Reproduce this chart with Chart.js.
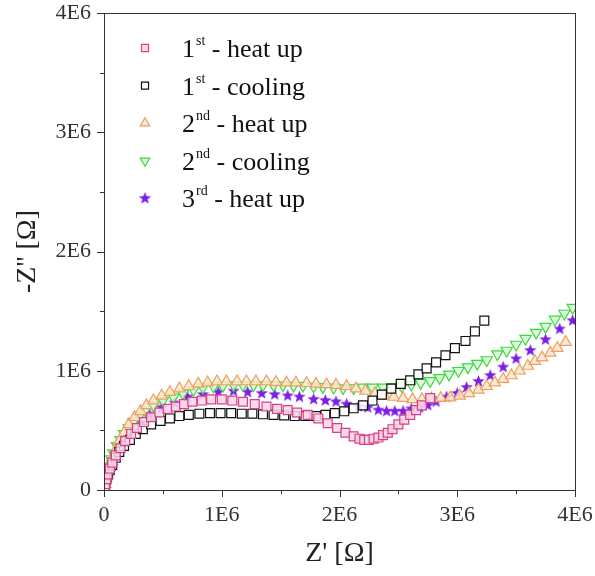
<!DOCTYPE html>
<html>
<head>
<meta charset="utf-8">
<script src="https://cdn.jsdelivr.net/npm/chart.js@4"></script>
<style>
  html, body { margin: 0; padding: 0; background: #fff; }
  #wrap { width: 595px; height: 576px; }
</style>
</head>
<body>
<div id="wrap"><canvas id="nyquist"></canvas></div>
<script>
// values in units of 1E6 ohm
const UNIT = 1e6;
const tickValues = [0, 1, 2, 3, 4];

const heat1X = [0.005,0.01,0.02,0.03,0.05,0.07,0.1,0.14,0.18,0.23,0.28,0.34,0.40,0.47,0.54,0.61,0.68,0.75,0.83,0.91,1.0,1.09,1.18,1.28,1.38,1.47,1.56,1.64,1.73,1.82,1.90,1.98,2.05,2.12,2.17,2.21,2.25,2.29,2.33,2.37,2.41,2.45,2.50,2.55,2.60,2.65,2.70,2.77];
const heat1Y = [0.02,0.05,0.09,0.13,0.18,0.23,0.29,0.35,0.41,0.47,0.52,0.57,0.61,0.65,0.68,0.70,0.72,0.74,0.75,0.76,0.76,0.75,0.74,0.72,0.70,0.68,0.67,0.65,0.63,0.60,0.56,0.52,0.48,0.45,0.43,0.42,0.42,0.43,0.44,0.46,0.48,0.51,0.55,0.59,0.63,0.67,0.71,0.77];

const cool1X = [0.005,0.01,0.02,0.035,0.05,0.07,0.1,0.13,0.17,0.22,0.27,0.33,0.40,0.48,0.56,0.64,0.72,0.81,0.90,0.99,1.08,1.17,1.26,1.35,1.44,1.53,1.62,1.71,1.80,1.88,1.96,2.04,2.12,2.20,2.28,2.36,2.44,2.52,2.60,2.67,2.74,2.82,2.90,2.98,3.07,3.15,3.23];
const cool1Y = [0.02,0.05,0.09,0.13,0.17,0.21,0.27,0.32,0.37,0.42,0.47,0.51,0.55,0.58,0.60,0.62,0.63,0.64,0.645,0.645,0.645,0.64,0.64,0.635,0.63,0.625,0.62,0.62,0.62,0.63,0.645,0.66,0.685,0.71,0.75,0.80,0.85,0.89,0.92,0.97,1.02,1.07,1.13,1.19,1.25,1.33,1.42];

const heat2X = [0.005,0.01,0.02,0.03,0.05,0.07,0.1,0.13,0.17,0.21,0.26,0.31,0.36,0.42,0.49,0.56,0.64,0.72,0.80,0.88,0.96,1.04,1.13,1.21,1.29,1.38,1.46,1.55,1.63,1.72,1.80,1.89,1.97,2.06,2.14,2.22,2.30,2.38,2.46,2.54,2.62,2.70,2.78,2.86,2.94,3.02,3.10,3.18,3.25,3.32,3.39,3.46,3.53,3.60,3.66,3.72,3.79,3.85,3.92];
const heat2Y = [0.02,0.05,0.1,0.15,0.21,0.27,0.34,0.41,0.48,0.55,0.61,0.66,0.71,0.75,0.79,0.82,0.85,0.87,0.89,0.90,0.91,0.91,0.91,0.91,0.91,0.91,0.905,0.90,0.90,0.895,0.89,0.885,0.88,0.87,0.85,0.83,0.81,0.79,0.78,0.77,0.76,0.76,0.765,0.77,0.775,0.79,0.81,0.84,0.87,0.90,0.93,0.96,1.0,1.04,1.08,1.11,1.15,1.19,1.24];

const cool2X = [0.005,0.01,0.02,0.04,0.06,0.08,0.11,0.14,0.17,0.21,0.25,0.30,0.35,0.42,0.50,0.59,0.67,0.76,0.84,0.93,1.01,1.10,1.18,1.27,1.35,1.44,1.52,1.61,1.69,1.78,1.86,1.95,2.03,2.12,2.20,2.28,2.37,2.45,2.53,2.61,2.69,2.77,2.85,2.93,3.01,3.09,3.17,3.25,3.34,3.42,3.50,3.58,3.67,3.75,3.83,3.91,3.98];
const cool2Y = [0.03,0.07,0.13,0.2,0.26,0.31,0.37,0.42,0.47,0.52,0.57,0.62,0.67,0.71,0.75,0.78,0.81,0.84,0.86,0.87,0.875,0.88,0.88,0.88,0.88,0.88,0.88,0.875,0.875,0.87,0.865,0.86,0.855,0.855,0.86,0.86,0.86,0.865,0.87,0.885,0.90,0.915,0.94,0.97,1.00,1.03,1.06,1.09,1.14,1.17,1.22,1.27,1.32,1.37,1.43,1.48,1.53];

const heat3X = [0.005,0.01,0.02,0.04,0.07,0.11,0.16,0.24,0.31,0.39,0.49,0.60,0.71,0.84,0.97,1.10,1.22,1.34,1.45,1.56,1.66,1.78,1.88,1.97,2.06,2.16,2.24,2.33,2.40,2.47,2.54,2.61,2.68,2.75,2.82,2.91,3.00,3.08,3.18,3.28,3.39,3.50,3.62,3.75,3.87,3.98];
const heat3Y = [0.02,0.05,0.09,0.15,0.2,0.31,0.39,0.48,0.56,0.63,0.69,0.73,0.78,0.80,0.82,0.83,0.82,0.81,0.80,0.79,0.78,0.76,0.75,0.74,0.72,0.70,0.69,0.67,0.66,0.66,0.66,0.68,0.69,0.71,0.74,0.78,0.81,0.86,0.91,0.96,1.03,1.10,1.17,1.26,1.35,1.42];

const legendNums = ['1', '1', '2', '2', '3'];
const legendSups = ['st', 'st', 'nd', 'nd', 'rd'];
const legendRest = [' - heat up', ' - cooling', ' - heat up', ' - cooling', ' - heat up'];

const SERIF = '"Liberation Serif", "DejaVu Serif", serif';

function pairs(xs, ys) {
    const out = [];
    for (let i = 0; i < Math.min(xs.length, ys.length); i++) {
        out.push({ x: xs[i] * UNIT, y: ys[i] * UNIT });
    }
    return out;
}

// filled five point star used as a point style
function makeStar(color, r) {
    const c = document.createElement('canvas');
    const s = Math.ceil(r * 2 + 2);
    c.width = s; c.height = s;
    const g = c.getContext('2d');
    g.translate(s / 2, s / 2);
    g.beginPath();
    for (let i = 0; i < 10; i++) {
        const rad = i % 2 === 0 ? r : r * 0.42;
        const a = -Math.PI / 2 + i * Math.PI / 5;
        g.lineTo(Math.cos(a) * rad, Math.sin(a) * rad);
    }
    g.closePath();
    g.fillStyle = color;
    g.fill();
    return c;
}

const star = makeStar('#7a1fe8', 6.5);

const styles = [
    { pointStyle: 'rect', borderColor: '#d8408a', backgroundColor: 'rgba(248,214,230,0.85)', rotation: 0 },
    { pointStyle: 'rect', borderColor: '#111111', backgroundColor: 'rgba(255,255,255,0.85)', rotation: 0 },
    { pointStyle: 'triangle', borderColor: '#eba060', backgroundColor: 'rgba(253,230,205,0.85)', rotation: 0 },
    { pointStyle: 'triangle', borderColor: '#3fd83f', backgroundColor: 'rgba(214,250,214,0.85)', rotation: 180 },
    { pointStyle: star, borderColor: '#7a1fe8', backgroundColor: '#7a1fe8', rotation: 0 }
];
const radii = [6.3, 6.3, 6.5, 6.5, 6.5];

const series = [
    pairs(heat1X, heat1Y),
    pairs(cool1X, cool1Y),
    pairs(heat2X, heat2Y),
    pairs(cool2X, cool2Y),
    pairs(heat3X, heat3Y)
];

const datasets = series.map(function (d, i) {
    return {
        label: legendNums[i] + legendSups[i] + legendRest[i],
        data: d,
        showLine: false,
        pointStyle: styles[i].pointStyle,
        pointRotation: styles[i].rotation,
        borderColor: styles[i].borderColor,
        backgroundColor: styles[i].backgroundColor,
        pointBorderWidth: 1.2,
        pointRadius: radii[i],
        pointHoverRadius: radii[i]
    };
});

// box around the plot with outward major/minor ticks
const frame = {
    id: 'frame',
    afterDatasetsDraw(chart) {
        const ctx = chart.ctx;
        const a = chart.chartArea;
        const xs = chart.scales.x, ys = chart.scales.y;
        ctx.save();
        ctx.strokeStyle = '#333';
        ctx.lineWidth = 1;
        ctx.strokeRect(Math.round(a.left) + 0.5, Math.round(a.top) + 0.5,
            Math.round(a.right - a.left), Math.round(a.bottom - a.top));
        ctx.beginPath();
        for (let v = 0; v <= 4; v += 0.5) {
            const len = Number.isInteger(v) ? 7 : 4;
            const px = Math.round(xs.getPixelForValue(v * UNIT)) + 0.5;
            ctx.moveTo(px, a.bottom);
            ctx.lineTo(px, a.bottom + len);
            const py = Math.round(ys.getPixelForValue(v * UNIT)) + 0.5;
            ctx.moveTo(a.left, py);
            ctx.lineTo(a.left - len, py);
        }
        ctx.stroke();
        ctx.restore();
    }
};

// legend with superscript ordinals
const supLegend = {
    id: 'supLegend',
    afterDraw(chart) {
        const ctx = chart.ctx;
        ctx.save();
        ctx.textBaseline = 'alphabetic';
        for (let i = 0; i < legendNums.length; i++) {
            const cy = 48 + i * 37.6;
            const ds = chart.data.datasets[i];
            ctx.strokeStyle = ds.borderColor;
            ctx.fillStyle = ds.backgroundColor;
            ctx.lineWidth = 1.2;
            Chart.helpers.drawPoint(ctx, {
                pointStyle: ds.pointStyle,
                rotation: ds.pointRotation,
                radius: ds.pointStyle === 'rect' ? 5 : 5.5,
                borderWidth: 1.2
            }, 145, cy);
            ctx.fillStyle = '#111';
            let x = 182;
            const base = cy + 9;
            ctx.font = '26px ' + SERIF;
            ctx.fillText(legendNums[i], x, base);
            x += ctx.measureText(legendNums[i]).width + 1;
            ctx.font = '14px ' + SERIF;
            ctx.fillText(legendSups[i], x, base - 12);
            x += ctx.measureText(legendSups[i]).width;
            ctx.font = '26px ' + SERIF;
            ctx.fillText(legendRest[i], x, base);
        }
        ctx.restore();
    }
};

function tickLabel(value) {
    const v = value / UNIT;
    if (tickValues.indexOf(v) < 0) return '';
    return v === 0 ? '0' : v + 'E6';
}

const ctx = document.getElementById('nyquist').getContext('2d');
new Chart(ctx, {
    type: 'scatter',
    data: { datasets: datasets },
    options: {
        responsive: true,
        maintainAspectRatio: false,
        animation: false,
        layout: { padding: { top: 13, right: 20, left: 0, bottom: 0 } },
        plugins: {
            legend: { display: false },
            tooltip: { enabled: false }
        },
        scales: {
            x: {
                type: 'linear',
                min: 0,
                max: 4 * UNIT,
                afterFit: function (scale) {
                    scale.height = 86;
                    scale.paddingLeft = 0;
                    scale.paddingRight = 0;
                },
                grid: { display: false, drawTicks: false },
                border: { display: false },
                ticks: {
                    stepSize: UNIT,
                    padding: 12,
                    color: '#333',
                    font: { family: SERIF, size: 22 },
                    maxRotation: 0,
                    callback: tickLabel
                },
                title: {
                    display: true,
                    text: "Z' [Ω]",
                    color: '#222',
                    font: { family: SERIF, size: 28 },
                    padding: { top: 0, bottom: 6 }
                }
            },
            y: {
                type: 'linear',
                min: 0,
                max: 4 * UNIT,
                afterFit: function (scale) {
                    scale.width = 104;
                    scale.paddingTop = 0;
                    scale.paddingBottom = 0;
                },
                grid: { display: false, drawTicks: false },
                border: { display: false },
                ticks: {
                    stepSize: UNIT,
                    padding: 13,
                    color: '#333',
                    font: { family: SERIF, size: 22 },
                    callback: tickLabel
                },
                title: {
                    display: true,
                    text: "-Z'' [Ω]",
                    color: '#222',
                    font: { family: SERIF, size: 28 },
                    padding: { top: 11, bottom: 0 }
                }
            }
        }
    },
    plugins: [frame, supLegend]
});
</script>
</body>
</html>
